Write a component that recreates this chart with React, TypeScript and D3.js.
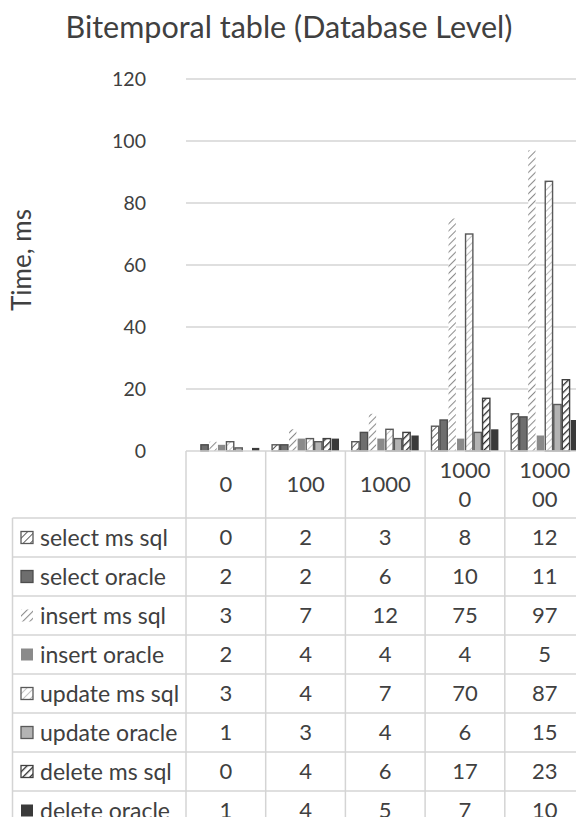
import React from "react";
import * as d3 from "d3";

const categories = ["0", "100", "1000", "10000", "100000"];
const categoryLines = [["0"], ["100"], ["1000"], ["1000", "0"], ["1000", "00"]];
const seriesNames = [
  "select ms sql",
  "select oracle",
  "insert ms sql",
  "insert oracle",
  "update ms sql",
  "update oracle",
  "delete ms sql",
  "delete oracle",
];
const selectMsSql = [0, 2, 3, 8, 12];
const selectOracle = [2, 2, 6, 10, 11];
const insertMsSql = [3, 7, 12, 75, 97];
const insertOracle = [2, 4, 4, 4, 5];
const updateMsSql = [3, 4, 7, 70, 87];
const updateOracle = [1, 3, 4, 6, 15];
const deleteMsSql = [0, 4, 6, 17, 23];
const deleteOracle = [1, 4, 5, 7, 10];
const seriesValues = [
  selectMsSql,
  selectOracle,
  insertMsSql,
  insertOracle,
  updateMsSql,
  updateOracle,
  deleteMsSql,
  deleteOracle,
];
const yTicks = [0, 20, 40, 60, 80, 100, 120];

type Style = { fill: string; stroke: string | null; hatch?: { color: string; w: number } };
const styles: Style[] = [
  { fill: "url(#h0)", stroke: "#595959", hatch: { color: "#595959", w: 1.5 } },
  { fill: "#6e6e6e", stroke: "#4d4d4d" },
  { fill: "url(#h2)", stroke: null, hatch: { color: "#8c8c8c", w: 1.6 } },
  { fill: "#8a8a8a", stroke: null },
  { fill: "url(#h4)", stroke: "#595959", hatch: { color: "#bdbdbd", w: 1.4 } },
  { fill: "#b3b3b3", stroke: "#595959" },
  { fill: "url(#h6)", stroke: "#404040", hatch: { color: "#262626", w: 2 } },
  { fill: "#3a3a3a", stroke: null },
];

export default function App() {
  const W = 584;
  const H = 825;
  const left = 186;
  const right = 584;
  const top = 79;
  const bottom = 451;
  const font = "Lato, Calibri, sans-serif";
  const text = "#404040";
  const grid = "#d4d4d4";

  const y = d3.scaleLinear().domain([0, 120]).range([bottom, top]);
  const x = d3.scaleBand().domain(categories).range([left, right + 0.5]).paddingInner(0).paddingOuter(0);
  const inner = d3
    .scaleBand()
    .domain(seriesNames)
    .range([0, x.bandwidth()])
    .paddingOuter(0.68)
    .paddingInner(0);

  const headerBottom = 518;
  const rowH = 39;
  const tableLeft = 12.5;
  const tfs = 23;

  return (
    <div style={{ margin: -8 }}>
      <svg width={W} height={H} style={{ display: "block", background: "#fff" }} fontFamily={font}>
        <defs>
          {styles.map((s, i) =>
            s.hatch ? (
              <pattern
                key={i}
                id={`h${i}`}
                patternUnits="userSpaceOnUse"
                width={5}
                height={5}
                patternTransform="rotate(45)"
              >
                <rect width={5} height={5} fill="#fff" />
                <line x1={0} y1={0} x2={0} y2={5} stroke={s.hatch.color} strokeWidth={s.hatch.w * 1.3} />
              </pattern>
            ) : null
          )}
        </defs>
        <text x={289} y={38} textAnchor="middle" fontSize={30.5} fill={text}>
          Bitemporal table (Database Level)
        </text>
        <text
          transform={`translate(${31},${260}) rotate(-90)`}
          textAnchor="middle"
          fontSize={26}
          fill={text}
        >
          Time, ms
        </text>
        {yTicks.map((t) => (
          <g key={t}>
            {t > 0 && <line x1={left} x2={right} y1={y(t)} y2={y(t)} stroke={grid} strokeWidth={1.5} />}
            <text x={146} y={y(t)} dy="0.36em" textAnchor="end" fontSize={19.5} fill={text}>
              {t}
            </text>
          </g>
        ))}
        {seriesNames.map((name, si) =>
          categories.map((c, ci) => {
            const v = seriesValues[si][ci];
            const st = styles[si];
            const bx = (x(c) as number) + (inner(name) as number);
            const bw = inner.bandwidth();
            const by = y(v);
            const bh = bottom - by;
            if (v <= 0) return null;
            return (
              <rect
                key={`${si}-${ci}`}
                x={bx + 0.6}
                y={by}
                width={bw - 1.2}
                height={bh}
                fill={st.fill}
                stroke={st.stroke ?? "none"}
                strokeWidth={st.stroke ? 1.4 : 0}
              />
            );
          })
        )}
        {/* table */}
        <g stroke={grid} strokeWidth={1.5}>
          <line x1={left} x2={right} y1={bottom} y2={bottom} />
          {categories.map((c) => (
            <line key={c} x1={x(c)} x2={x(c)} y1={bottom} y2={H + 10} />
          ))}
          <line x1={tableLeft} x2={tableLeft} y1={headerBottom} y2={H + 10} />
          {seriesNames.map((n, i) => (
            <line key={n} x1={tableLeft} x2={right} y1={headerBottom + i * rowH} y2={headerBottom + i * rowH} />
          ))}
        </g>
        {categories.map((c, ci) => {
          const cx = (x(c) as number) + x.bandwidth() / 2;
          const lines = categoryLines[ci];
          const cy = (bottom + headerBottom) / 2;
          return (
            <text key={c} x={cx} textAnchor="middle" fontSize={tfs - 1} fill={text}>
              {lines.map((l, li) => (
                <tspan key={li} x={cx} y={cy + (li - (lines.length - 1) / 2) * 29} dy="0.36em">
                  {l}
                </tspan>
              ))}
            </text>
          );
        })}
        {seriesNames.map((name, si) => {
          const cy = headerBottom + si * rowH + rowH / 2;
          const st = styles[si];
          return (
            <g key={name}>
              <rect
                x={21}
                y={cy - 6}
                width={12}
                height={12}
                fill={st.fill}
                stroke={st.stroke ?? "none"}
                strokeWidth={st.stroke ? 1.3 : 0}
              />
              <text x={40} y={cy} dy="0.36em" fontSize={tfs} fill={text}>
                {name}
              </text>
              {categories.map((c, ci) => (
                <text
                  key={c}
                  x={(x(c) as number) + x.bandwidth() / 2}
                  y={cy}
                  dy="0.36em"
                  textAnchor="middle"
                  fontSize={tfs - 1}
                  fill={text}
                >
                  {seriesValues[si][ci]}
                </text>
              ))}
            </g>
          );
        })}
      </svg>
    </div>
  );
}
